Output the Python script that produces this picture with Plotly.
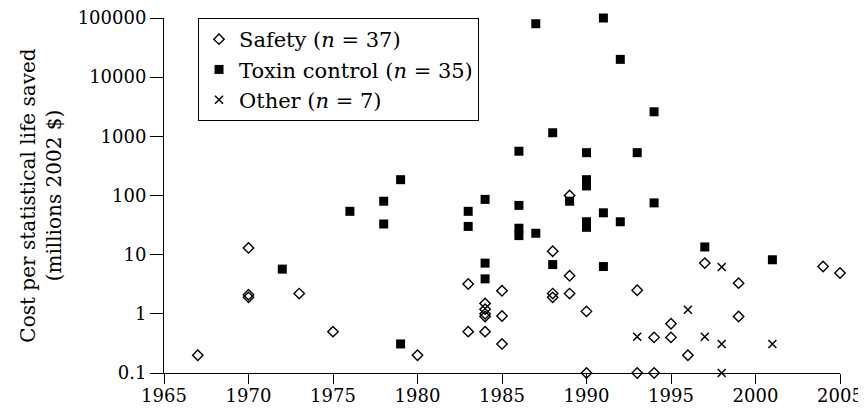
import plotly.graph_objects as go

# Safety (open diamonds)
safety_year = [1967, 1970, 1970, 1970, 1973, 1975, 1980, 1983, 1983,
               1984, 1984, 1984, 1984, 1984, 1985, 1985, 1985,
               1988, 1988, 1988, 1989, 1989, 1989, 1990, 1990,
               1993, 1993, 1994, 1994, 1995, 1995, 1996, 1997,
               1999, 1999, 2004, 2005]
safety_cost = [0.2, 13, 2.1, 1.9, 2.2, 0.5, 0.2, 3.2, 0.5,
               1.5, 1.2, 1.0, 0.9, 0.5, 2.45, 0.92, 0.31,
               11.4, 2.2, 1.9, 100, 4.4, 2.2, 1.1, 0.1,
               2.5, 0.1, 0.4, 0.1, 0.68, 0.4, 0.2, 7.2,
               3.3, 0.9, 6.3, 4.9]

# Toxin control (filled squares)
toxin_year = [1972, 1976, 1978, 1978, 1979, 1979, 1983, 1983,
              1984, 1984, 1984, 1986, 1986, 1986, 1986, 1987, 1987,
              1988, 1988, 1989, 1990, 1990, 1990, 1990, 1990,
              1991, 1991, 1991, 1992, 1992, 1993, 1994, 1994, 1997, 2001]
toxin_cost = [5.7, 54, 80, 33, 185, 0.31, 54, 30,
              86, 7.2, 3.9, 560, 68, 28, 21, 80000, 23,
              1150, 6.8, 80, 530, 185, 145, 36, 29,
              100000, 51, 6.3, 20000, 36, 530, 2600, 75, 13.5, 8.2]

# Other (crosses)
other_year = [1993, 1996, 1997, 1998, 1998, 1998, 2001]
other_cost = [0.41, 1.17, 0.41, 6.2, 0.31, 0.1, 0.31]

names = ["Safety (<i>n</i> = 37)", "Toxin control (<i>n</i> = 35)", "Other (<i>n</i> = 7)"]
x_ticks = [1965, 1970, 1975, 1980, 1985, 1990, 1995, 2000, 2005]
y_ticks = [0.1, 1, 10, 100, 1000, 10000, 100000]
y_ticktext = ["0.1", "1", "10", "100", "1000", "10000", "100000"]

FONT = "DejaVu Serif"

fig = go.Figure()
fig.add_trace(go.Scatter(
    x=safety_year, y=safety_cost, mode="markers", name=names[0],
    marker=dict(symbol="diamond-open", size=8, color="black",
                line=dict(color="black", width=1.4)),
    cliponaxis=False))
fig.add_trace(go.Scatter(
    x=toxin_year, y=toxin_cost, mode="markers", name=names[1],
    marker=dict(symbol="square", size=9, color="black",
                line=dict(width=0)),
    cliponaxis=False))
fig.add_trace(go.Scatter(
    x=other_year, y=other_cost, mode="markers", name=names[2],
    marker=dict(symbol="x-thin", size=8, color="black",
                line=dict(color="black", width=1.5)),
    cliponaxis=False))

# The page body adds an 8px offset; size the figure so it fits the window.
fig.update_layout(
    width=858, height=399,
    margin=dict(l=156, r=26, t=10, b=34),
    paper_bgcolor="white", plot_bgcolor="white",
    font=dict(family=FONT, size=18, color="black"),
    showlegend=True,
    legend=dict(
        x=0.0503, y=1.0, xanchor="left", yanchor="top",
        bgcolor="white", bordercolor="black", borderwidth=1,
        font=dict(family=FONT, size=21, color="black"),
        itemsizing="trace", tracegroupgap=0,
    ),
    xaxis=dict(
        range=[1965, 2005], tickvals=x_ticks, automargin=False,
        showline=True, linecolor="black", linewidth=1,
        ticks="outside", ticklen=10, tickcolor="black", tickwidth=1,
        ticklabelstandoff=-4, ticklabeloverflow="allow",
        showgrid=False, zeroline=False,
        tickfont=dict(family=FONT, size=18, color="black"),
    ),
    yaxis=dict(
        type="log", range=[-1, 5], tickvals=y_ticks, ticktext=y_ticktext,
        automargin=False, ticklabeloverflow="allow",
        showline=True, linecolor="black", linewidth=1,
        ticks="outside", ticklen=13, tickcolor="black", tickwidth=1,
        showgrid=False, zeroline=False,
        tickfont=dict(family=FONT, size=18, color="black"),
        title=dict(text="Cost per statistical life saved<br>(millions 2002 $)",
                   font=dict(family=FONT, size=20, color="black"),
                   standoff=10),
    ),
)

fig.write_html("out.html")
